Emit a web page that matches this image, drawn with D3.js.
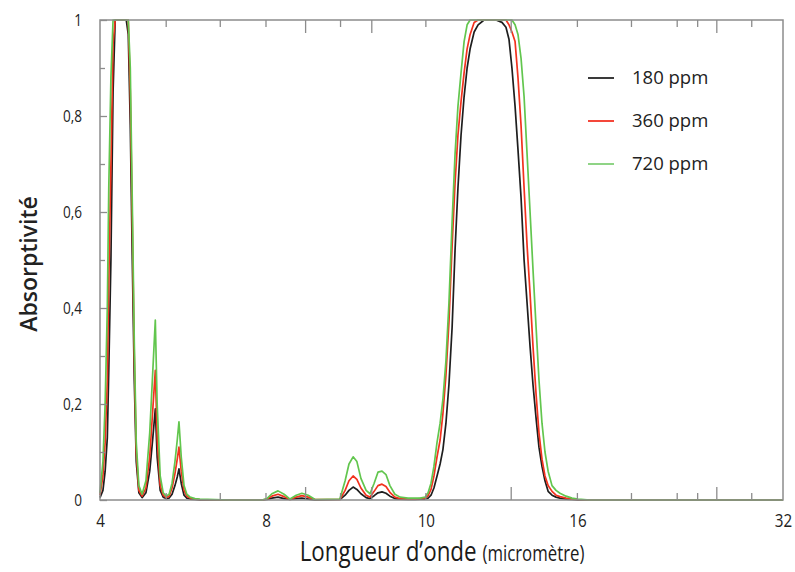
<!DOCTYPE html>
<html>
<head>
<meta charset="utf-8">
<script src="https://cdn.jsdelivr.net/npm/d3@7"></script>
<style>
  body { margin: 0; background: #fff; }
  svg { display: block; }
</style>
</head>
<body>
<svg id="chart" width="795" height="572"></svg>
<script>
// Wavelength grid (micrometres) shared by the three CO2 concentrations
const wavelengths = [
  4.00, 4.04, 4.07, 4.10, 4.12, 4.15, 4.18, 4.21, 4.28, 4.37, 4.40, 4.43, 4.46, 4.49, 4.52, 4.56,
  4.61, 4.67, 4.73, 4.78, 4.82, 4.85, 4.90, 4.95, 5.00, 5.05, 5.10, 5.15, 5.19, 5.22, 5.26, 5.31,
  5.36, 5.42, 5.51, 5.60,
  6.20, 6.91, 7.02, 7.14, 7.29, 7.44, 7.59, 7.75, 7.90, 8.07, 8.26, 8.98, 9.14, 9.26, 9.39, 9.51,
  9.64, 9.81, 9.94, 10.08, 10.21, 10.35, 10.49, 10.63, 10.81, 11.00, 11.30, 11.57, 11.77,
  11.97, 12.09, 12.21, 12.33, 12.46, 12.59, 12.71, 12.84, 12.97, 13.11, 13.24, 13.37, 13.51, 13.65,
  13.79, 13.93, 14.12, 14.31, 14.60, 14.90, 15.20, 15.51, 15.72, 15.88, 16.04, 16.21, 16.37, 16.54,
  16.71, 16.88, 17.05, 17.22, 17.40, 17.57, 17.75, 17.93, 18.12, 18.36, 18.61, 18.86, 19.25, 19.64,
  20.04, 20.87, 40.0
];

// Absorptivity, 180 ppm
const abs180 = [
  0.005, 0.02, 0.06, 0.13, 0.27, 0.5, 0.85, 1.0, 1.0, 1.0, 0.97, 0.78, 0.5, 0.25, 0.08, 0.015,
  0.005, 0.015, 0.06, 0.13, 0.19, 0.09, 0.02, 0.006, 0.003, 0.004, 0.012, 0.03, 0.048, 0.065, 0.035, 0.01,
  0.004, 0.002, 0.001, 0,
  0, 0, 0.001, 0.004, 0.006, 0.003, 0.001, 0.003, 0.004, 0.002, 0, 0.001, 0.01, 0.02, 0.027, 0.022,
  0.013, 0.005, 0.003, 0.009, 0.015, 0.017, 0.014, 0.008, 0.003, 0.002, 0.001, 0.001, 0.002,
  0.002, 0.004, 0.01, 0.025, 0.05, 0.075, 0.105, 0.16, 0.24, 0.36, 0.52, 0.65, 0.76, 0.84,
  0.9, 0.94, 0.975, 0.99, 1, 1, 1, 0.995, 0.985, 0.96, 0.9, 0.82, 0.73, 0.63,
  0.5, 0.41, 0.32, 0.24, 0.17, 0.11, 0.07, 0.04, 0.018, 0.01, 0.006, 0.004, 0.002, 0.001,
  0, 0, 0
];

// Absorptivity, 360 ppm
const abs360 = [
  0.01, 0.05, 0.12, 0.25, 0.45, 0.7, 0.95, 1.0, 1.0, 1.0, 1.0, 0.85, 0.58, 0.3, 0.1, 0.02,
  0.008, 0.025, 0.09, 0.19, 0.27, 0.13, 0.03, 0.01, 0.005, 0.008, 0.025, 0.055, 0.085, 0.11, 0.06, 0.02,
  0.008, 0.004, 0.002, 0.001,
  0, 0, 0.002, 0.008, 0.012, 0.007, 0.001, 0.006, 0.009, 0.006, 0.001, 0.001, 0.02, 0.04, 0.05, 0.043,
  0.025, 0.01, 0.006, 0.018, 0.03, 0.033, 0.028, 0.016, 0.006, 0.003, 0.002, 0.002, 0.003,
  0.004, 0.009, 0.022, 0.05, 0.09, 0.125, 0.18, 0.26, 0.37, 0.53, 0.66, 0.76, 0.83, 0.89,
  0.94, 0.97, 0.995, 1, 1, 1, 1, 1, 1, 0.99, 0.975, 0.955, 0.88, 0.78,
  0.65, 0.53, 0.43, 0.32, 0.22, 0.14, 0.085, 0.05, 0.03, 0.018, 0.01, 0.007, 0.004, 0.002,
  0.001, 0, 0
];

// Absorptivity, 720 ppm
const abs720 = [
  0.015, 0.08, 0.2, 0.4, 0.65, 0.88, 1.0, 1.0, 1.0, 1.0, 1.0, 0.9, 0.62, 0.33, 0.12, 0.03,
  0.012, 0.04, 0.14, 0.27, 0.375, 0.2, 0.05, 0.015, 0.008, 0.012, 0.035, 0.08, 0.125, 0.163, 0.09, 0.03,
  0.012, 0.006, 0.003, 0.002,
  0, 0, 0.003, 0.013, 0.019, 0.012, 0.002, 0.01, 0.014, 0.01, 0.001, 0.002, 0.04, 0.075, 0.09, 0.08,
  0.045, 0.02, 0.013, 0.035, 0.058, 0.06, 0.053, 0.03, 0.012, 0.006, 0.004, 0.004, 0.004,
  0.006, 0.015, 0.035, 0.07, 0.12, 0.16, 0.21, 0.29, 0.41, 0.58, 0.72, 0.82, 0.89, 0.955,
  0.99, 1, 1, 1, 1, 1, 1, 1, 1, 1, 1, 0.99, 0.97, 0.92,
  0.84, 0.72, 0.6, 0.48, 0.36, 0.25, 0.16, 0.1, 0.06, 0.03, 0.02, 0.014, 0.008, 0.004,
  0.002, 0, 0
];

const seriesNames = ["180 ppm", "360 ppm", "720 ppm"];
const seriesColors = ["#1e1e1e", "#f2321e", "#62c64e"];
const legendColors = ["#3a3a3a", "#f4473a", "#8fd486"];

// Axis ticks
const yTicks = [0, 0.2, 0.4, 0.6, 0.8, 1];
const yMinorTicks = [0.1, 0.3, 0.5, 0.7, 0.9];
const xTickValues = [5, 6, 7, 8, 9, 10, 12, 16, 20, 24, 28, 30, 32, 36];
const xLongTicks = [8, 10, 16, 32];
const xLabelValues = [4, 7, 12, 20, 40];
const xLabelTexts = ["4", "8", "10", "16", "32"];

const margin = { left: 100, right: 12, top: 20, bottom: 72 };
const W = 795, H = 572;
const plotW = W - margin.left - margin.right;
const plotH = H - margin.top - margin.bottom;

const svg = d3.select("#chart");

const x = d3.scaleLog().domain([4, 40]).range([margin.left, margin.left + plotW]);
const y = d3.scaleLinear().domain([0, 1]).range([margin.top + plotH, margin.top]);

const axisColor = "#8c8c8c";
const narrow = "scale(0.8,1)";

// Curves (drawn first so the frame and ticks stay crisp on top of the baseline)
const line = d3.line()
  .x(d => x(d[0]))
  .y(d => y(d[1]));

const seriesValues = [abs180, abs360, abs720];
seriesValues.forEach((vals, i) => {
  svg.append("path")
    .datum(wavelengths.map((w, j) => [w, vals[j]]))
    .attr("fill", "none")
    .attr("stroke", seriesColors[i])
    .attr("stroke-width", 1.7)
    .attr("stroke-linejoin", "round")
    .attr("d", line);
});

// Plot frame
svg.append("rect")
  .attr("x", x(4)).attr("y", y(1))
  .attr("width", x(40) - x(4)).attr("height", y(0) - y(1))
  .attr("fill", "none")
  .attr("stroke", axisColor)
  .attr("stroke-width", 1.5);

// Y axis: major ticks with labels, minor ticks without
const fmtY = d => d === 0 ? "0" : d === 1 ? "1" : d3.format(".1f")(d).replace(".", ",");
const yAxis = svg.append("g")
  .attr("transform", `translate(${margin.left},0)`)
  .call(d3.axisLeft(y).tickValues(yTicks).tickSize(-7).tickPadding(18).tickFormat(fmtY));
yAxis.select(".domain").remove();
yAxis.selectAll(".tick line").attr("stroke", axisColor).attr("stroke-width", 1.3);
yAxis.selectAll(".tick text")
  .attr("font-family", "'Open Sans', sans-serif")
  .attr("font-size", 17)
  .attr("fill", "#222")
  .attr("transform", narrow)
  .attr("x", -18 / 0.8);

const yMinor = svg.append("g")
  .attr("transform", `translate(${margin.left},0)`)
  .call(d3.axisLeft(y).tickValues(yMinorTicks).tickSize(-5).tickFormat(""));
yMinor.select(".domain").remove();
yMinor.selectAll(".tick line").attr("stroke", axisColor).attr("stroke-width", 1.3);

// X axis ticks on the bottom and top edges
const tickLen = v => xLongTicks.includes(v) ? 13 : 7;
const xt = svg.append("g");
xt.selectAll("line.bottom").data(xTickValues).join("line")
  .attr("class", "bottom")
  .attr("x1", d => x(d)).attr("x2", d => x(d))
  .attr("y1", y(0)).attr("y2", d => y(0) - tickLen(d))
  .attr("stroke", axisColor).attr("stroke-width", 1.3);
xt.selectAll("line.top").data(xTickValues).join("line")
  .attr("class", "top")
  .attr("x1", d => x(d)).attr("x2", d => x(d))
  .attr("y1", y(1)).attr("y2", d => y(1) + tickLen(d))
  .attr("stroke", axisColor).attr("stroke-width", 1.3);

// X tick labels
const xAxis = svg.append("g")
  .attr("transform", `translate(0,${y(0)})`)
  .call(d3.axisBottom(x).tickValues(xLabelValues).tickSize(0).tickPadding(14)
    .tickFormat((d, i) => xLabelTexts[i]));
xAxis.select(".domain").remove();
xAxis.selectAll(".tick text")
  .attr("font-family", "'Open Sans', sans-serif")
  .attr("font-size", 19)
  .attr("fill", "#222")
  .attr("transform", narrow);

// Axis titles
svg.append("text")
  .attr("transform", `translate(37,${(y(0) + y(1)) / 2 + 4}) rotate(-90)`)
  .attr("text-anchor", "middle")
  .attr("font-family", "'Open Sans', sans-serif")
  .attr("font-weight", 600)
  .attr("font-size", 23)
  .attr("fill", "#222")
  .text("Absorptivité");

const xTitle = svg.append("text")
  .attr("transform", `translate(442,561) ${narrow}`)
  .attr("text-anchor", "middle")
  .attr("font-family", "'Open Sans', sans-serif")
  .attr("fill", "#1a1a1a");
xTitle.append("tspan").attr("font-size", 28).attr("font-weight", 500).text("Longueur d\u2019onde ");
xTitle.append("tspan").attr("font-size", 21).text("(micromètre)");

// Legend
const legend = svg.append("g").attr("transform", "translate(588,78)");
seriesNames.forEach((name, i) => {
  const g = legend.append("g").attr("transform", `translate(0,${i * 43})`);
  g.append("line")
    .attr("x1", 0).attr("x2", 26)
    .attr("stroke", legendColors[i]).attr("stroke-width", 2);
  g.append("text")
    .attr("x", 44).attr("y", 6)
    .attr("font-family", "'Open Sans', sans-serif")
    .attr("font-size", 18.5)
    .attr("fill", "#222")
    .text(name);
});
</script>
</body>
</html>
